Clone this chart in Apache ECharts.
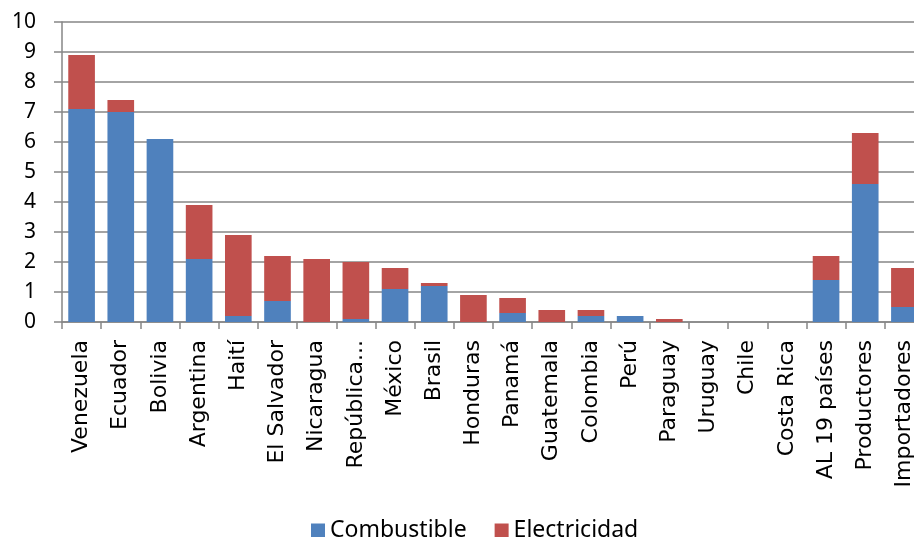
<!DOCTYPE html>
<html>
<head>
<meta charset="utf-8">
<script src="https://cdn.jsdelivr.net/npm/echarts@6/dist/echarts.min.js"></script>
<style>
  html, body { margin: 0; padding: 0; background: #fff; overflow: hidden; }
  #chart { width: 914px; height: 537px; }
</style>
</head>
<body>
<div id="chart"></div>
<script>
const categories = [
  'Venezuela', 'Ecuador', 'Bolivia', 'Argentina', 'Haití', 'El Salvador',
  'Nicaragua', 'República...', 'México', 'Brasil', 'Honduras', 'Panamá',
  'Guatemala', 'Colombia', 'Perú', 'Paraguay', 'Uruguay', 'Chile',
  'Costa Rica', 'AL 19 países', 'Productores', 'Importadores'
]
const combustible = [7.1, 7.0, 6.1, 2.1, 0.2, 0.7, 0, 0.1, 1.1, 1.2, 0, 0.3, 0, 0.2, 0.2, 0, 0, 0, 0, 1.4, 4.6, 0.5]
const electricidad = [1.8, 0.4, 0, 1.8, 2.7, 1.5, 2.1, 1.9, 0.7, 0.1, 0.9, 0.5, 0.4, 0.2, 0, 0.1, 0, 0, 0, 0.8, 1.7, 1.3]
const yTicks = [0, 1, 2, 3, 4, 5, 6, 7, 8, 9, 10]

const chart = echarts.init(document.getElementById('chart'))

chart.setOption({
  animation: false,
  grid: {
    left: 62,
    top: 22,
    bottom: 215,
    width: 862,
    outerBoundsMode: 'none'
  },
  legend: {
    bottom: -10,
    left: 306,
    itemWidth: 14,
    itemHeight: 14,
    itemGap: 28,
    icon: 'rect',
    textStyle: {
      fontFamily: 'Noto Sans',
      fontSize: 23,
      color: '#000'
    },
    data: ['Combustible', 'Electricidad']
  },
  xAxis: {
    type: 'category',
    data: categories,
    axisLine: {
      lineStyle: { color: '#868686', width: 1.5 }
    },
    axisTick: {
      show: true,
      length: 7,
      lineStyle: { color: '#868686', width: 1.5 }
    },
    axisLabel: {
      rotate: 90,
      interval: 0,
      margin: 18,
      color: '#000',
      fontFamily: 'DejaVu Sans',
      fontSize: 22
    }
  },
  yAxis: {
    type: 'value',
    min: yTicks[0],
    max: yTicks[yTicks.length - 1],
    interval: 1,
    axisLine: {
      show: true,
      lineStyle: { color: '#868686', width: 1.5 }
    },
    axisTick: {
      show: true,
      length: 8,
      lineStyle: { color: '#868686', width: 1.5 }
    },
    axisLabel: {
      color: '#000',
      fontFamily: 'Noto Sans',
      fontSize: 21,
      margin: 26
    },
    splitLine: {
      lineStyle: { color: '#868686', width: 1.5 }
    }
  },
  series: [
    {
      name: 'Combustible',
      type: 'bar',
      stack: 'total',
      barCategoryGap: '32%',
      data: combustible,
      itemStyle: { color: '#4F81BD' }
    },
    {
      name: 'Electricidad',
      type: 'bar',
      stack: 'total',
      barCategoryGap: '32%',
      data: electricidad,
      itemStyle: { color: '#C0504D' }
    }
  ]
})
</script>
</body>
</html>
